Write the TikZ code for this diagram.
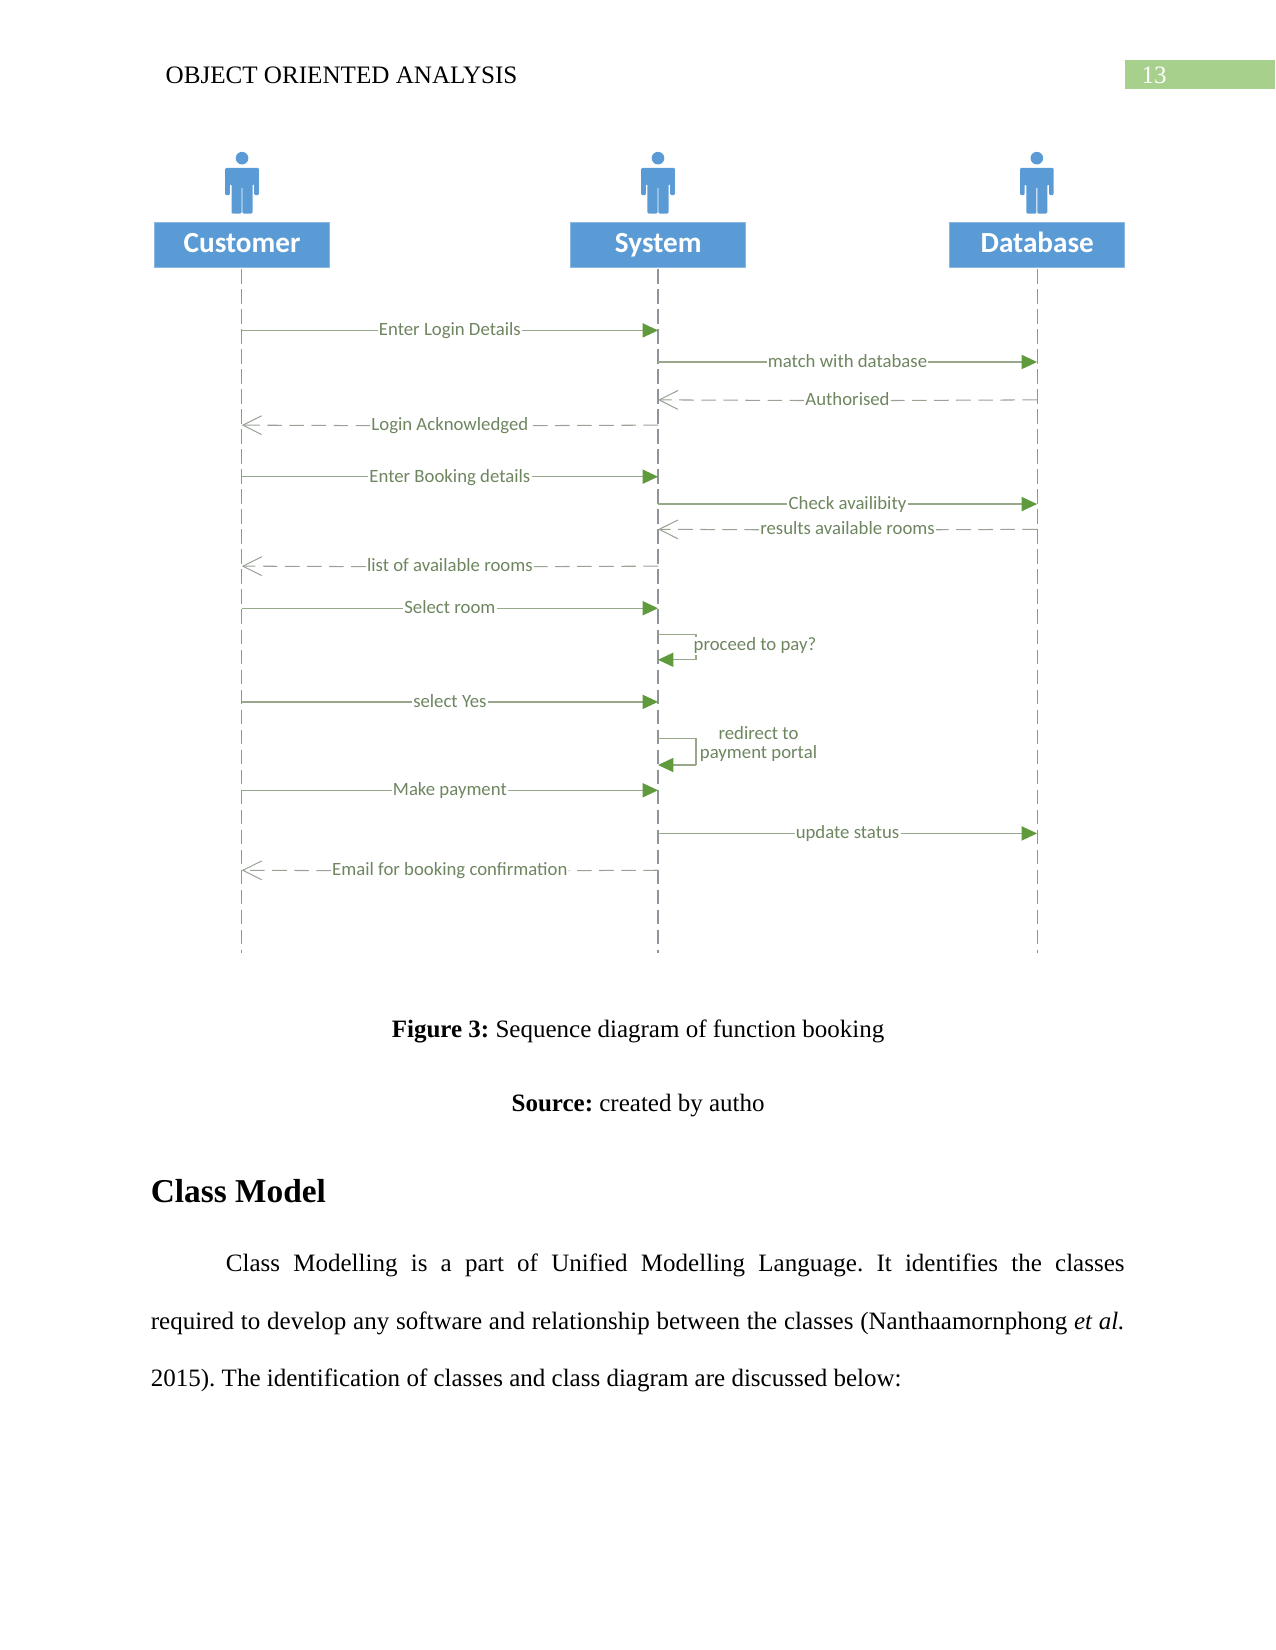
\documentclass[tikz,border=0pt]{standalone}
\usepackage{fontspec}
\setmainfont{Liberation Serif}
\newfontfamily\diag{Carlito}
\usetikzlibrary{arrows.meta,calc}
\definecolor{boxblue}{HTML}{5B9BD5}
\definecolor{barsgreen}{HTML}{A8D08D}
\definecolor{tipgreen}{HTML}{5F9A3D}
\definecolor{lblgreen}{HTML}{6E8660}
\definecolor{msgline}{HTML}{98A88A}
\definecolor{dashline}{HTML}{9AA295}
\definecolor{lifeline}{HTML}{8E9499}
\tikzset{
  actorbox/.style={fill=boxblue,draw=boxblue!70!white,line width=.3pt,minimum width=84pt,minimum height=21.5pt,inner sep=0pt,text=white,text height=9pt,text depth=1pt,font=\diag\bfseries\fontsize{14}{15}\selectfont},
  lifedash/.style={draw=lifeline,line width=.5pt,dash pattern=on 7pt off 2.6pt},
  msglbl/.style={inner sep=.4pt,fill=white,text=lblgreen,text height=6pt,text depth=1.7pt,font=\diag\fontsize{9}{9.2}\selectfont},
  solidmsg/.style={draw=msgline,line width=.6pt},
  solidhead/.style={solidmsg,-{Triangle[length=7.4pt,width=6.8pt,fill=tipgreen,color=tipgreen]}},
  dashmsg/.style={draw=dashline,line width=.5pt,dash pattern=on 7pt off 3.6pt},
  dashhead/.style={dashmsg,-{Straight Barb[length=9pt,width=9pt,color=dashline,line width=.5pt]}},
  pagetext/.style={inner sep=0pt,font=\fontsize{12}{14}\selectfont,anchor=base west}
}
\newcommand{\actorfig}[1]{%
  \begin{scope}[shift={(#1,0)}]
    \fill[boxblue] (0,-150.3) circle[radius=6];
    \fill[boxblue,rounded corners=.6pt]
      (-16,-159.5) -- (16,-159.5) -- (16,-185.5) -- (11.6,-185.5) -- (11.6,-175) -- (10,-175)
      -- (10,-203) -- (.4,-203) -- (.4,-177.5) -- (-.4,-177.5) -- (-.4,-203) -- (-10,-203)
      -- (-10,-175) -- (-11.6,-175) -- (-11.6,-185.5) -- (-16,-185.5) -- cycle;
  \end{scope}}
% id, source, destination, y, label
\newcommand{\solidarrow}[5]{%
  \coordinate (#1s) at (#2 |- 0,-#4);
  \coordinate (#1e) at (#3 |- 0,-#4);
  \node[msglbl] (#1) at ($(#1s)!.5!(#1e)+(0,-.8)$) {#5};
  \draw[solidmsg] (#1s) -- (#1s -| #1.west);
  \draw[solidhead] (#1e -| #1.east) -- (#1e);}
\newcommand{\dasharrow}[5]{%
  \coordinate (#1s) at (#2 |- 0,-#4);
  \coordinate (#1e) at (#3 |- 0,-#4);
  \node[msglbl] (#1) at ($(#1s)!.5!(#1e)+(0,-.8)$) {#5};
  \draw[dashmsg] (#1s) -- (#1);
  \draw[dashhead] (#1) -- (#1e);}
\begin{document}
\frenchspacing
\begin{tikzpicture}[x=0.50495pt,y=0.50495pt]
\useasboundingbox (0,0) rectangle (1212,-1568);
% header
\node[pagetext] (hdr) at (157,-79) {\fontsize{12.05}{14}\selectfont OBJECT ORIENTED ANALYSIS};
\fill[barsgreen] (1069.5,-57.5) rectangle (1212,-84.5);
\node[pagetext,text=white] (pg) at (1084.5,-79) {13};
% actors
\actorfig{230}\actorfig{625.3}\actorfig{985.3}
\node[actorbox] (cust) at (230,-232.5) {Customer};
\node[actorbox] (syst) at (625.5,-232.5) {System};
\node[actorbox] (dbase) at (985.7,-232.5) {Database};
\coordinate (cl) at (229.7,-256);
\coordinate (sl) at (625.3,-256);
\coordinate (dl) at (985.5,-256);
\coordinate (clb) at (229.7,-906);
\coordinate (slb) at (625.3,-906);
\coordinate (dlb) at (985.5,-906);
\draw[lifedash] (cl) -- (clb);
\draw[lifedash] (sl) -- (slb);
\draw[lifedash] (dl) -- (dlb);
% messages
\solidarrow{m1}{cl}{sl}{314}{Enter Login Details}
\solidarrow{m2}{sl}{dl}{344}{match with database}
\dasharrow{m3}{dl}{sl}{380}{Authorised}
\dasharrow{m4}{sl}{cl}{404}{Login Acknowledged}
\solidarrow{m5}{cl}{sl}{453}{Enter Booking details}
\solidarrow{m6}{sl}{dl}{479}{Check availibity}
\dasharrow{m7}{dl}{sl}{503}{results available rooms}
\dasharrow{m8}{sl}{cl}{538}{list of available rooms}
\solidarrow{m9}{cl}{sl}{578}{Select room}
\solidarrow{m10}{cl}{sl}{667}{select Yes}
\solidarrow{m11}{cl}{sl}{751}{Make payment}
\solidarrow{m12}{sl}{dl}{792}{update status}
\dasharrow{m13}{sl}{cl}{827}{Email for booking confirmation}
% self messages
\coordinate (pa) at (sl |- 0,-603);
\coordinate (pb) at (sl |- 0,-627);
\draw[solidmsg] (pa) -- ++(36,0) -- ++(0,-24) coordinate (pc);
\draw[solidhead] (pc) -- (pb);
\node[msglbl,anchor=west] (pl) at (658,-614) {proceed to pay?};
\coordinate (ra) at (sl |- 0,-702);
\coordinate (rb) at (sl |- 0,-727);
\draw[solidmsg] (ra) -- ++(36,0) -- ++(0,-25) coordinate (rc);
\draw[solidhead] (rc) -- (rb);
\node[inner sep=.4pt,fill=white,text=lblgreen,align=center,font=\diag\fontsize{9}{9.2}\selectfont] (rl) at (720.8,-707.3) {redirect to\\payment portal};
% caption
\node[pagetext,anchor=base] (cap) at (606.4,-986) {\textbf{Figure 3:} Sequence diagram of function booking};
\node[pagetext,anchor=base] (src) at (606.4,-1056) {\textbf{Source:} created by autho};
\node[pagetext,font=\bfseries\fontsize{16}{18}\selectfont] (cm) at (143,-1143) {Class Model};
% body
\node[inner sep=0pt,anchor=north west,text width=467.2pt,align=justify,font=\fontsize{12}{27.6}\selectfont] (body) at (143,-1191.5)
{\hspace*{36pt}Class Modelling is a part of Unified Modelling Language. It identifies the classes\linebreak
required to develop any software and relationship between the classes (Nanthaamornphong \textit{et al.}\linebreak
2015). The identification of classes and class diagram are discussed below:};
\end{tikzpicture}
\end{document}
